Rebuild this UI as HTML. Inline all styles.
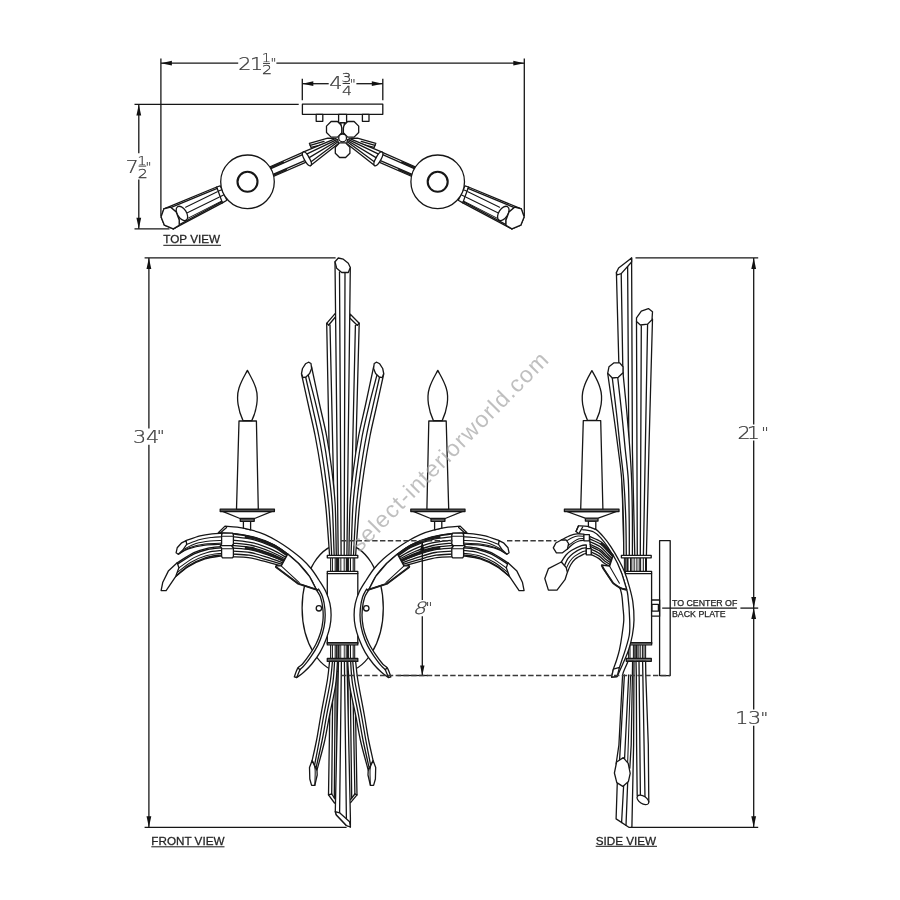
<!DOCTYPE html>
<html lang="en"><head><meta charset="utf-8"><title>Wall sconce dimension drawing</title>
<style>
html,body{margin:0;padding:0;background:#fff}
svg{display:block;filter:grayscale(1)}
.s{fill:#fff;stroke:#161616;stroke-width:1.3;stroke-linejoin:round;stroke-linecap:round}
.n{fill:none;stroke:#161616;stroke-width:1.3;stroke-linejoin:round;stroke-linecap:round}
.t{fill:none;stroke:#161616;stroke-width:1.05;stroke-linecap:round}
.k{fill:none;stroke:#1c1c1c;stroke-width:1.9;stroke-linecap:butt}
.l{fill:none;stroke:#161616;stroke-width:1.3}
.h{fill:none;stroke:#3a3a3a;stroke-width:1.4;stroke-dasharray:5.4 2.4}
.a{fill:#111;stroke:none}
.d{font-family:"DejaVu Sans Light","DejaVu Sans","Liberation Sans",sans-serif;font-weight:200;font-size:17px;fill:#3a3a3a;stroke:#3a3a3a;stroke-width:.25}
.q{font-family:"DejaVu Sans Light","DejaVu Sans","Liberation Sans",sans-serif;font-weight:200;font-size:13px;fill:#3a3a3a;stroke:#3a3a3a;stroke-width:.25}
.v{font-family:"Liberation Sans",Arial,sans-serif;font-size:11.7px;fill:#242424;stroke:#242424;stroke-width:.28}
.c{font-family:"Liberation Sans",Arial,sans-serif;font-size:8.8px;fill:#242424;stroke:#242424;stroke-width:.25}
.w{font-family:"Liberation Sans",Arial,sans-serif;font-size:23px;letter-spacing:1.18px;fill:#a0a0a0;fill-opacity:.68}
</style></head>
<body>
<svg width="900" height="900" viewBox="0 0 900 900">
<rect x="0" y="0" width="900" height="900" fill="#fff"/>
<g id="topview">
<polygon class="s" points="309.4,143.3 327.8,138.2 334,138.4 334,142 311,147.4"/>
<line class="n" x1="310.2" y1="145.3" x2="324" y2="141.4"/>
<line class="n" x1="269.5" y1="167" x2="304" y2="151.8"/>
<line class="n" x1="270.3" y1="168.9" x2="304.8" y2="153.7"/>
<line class="k" x1="269.9" y1="167.9" x2="283.9" y2="161.8"/>
<line class="n" x1="272.5" y1="174.6" x2="306.5" y2="159.8"/>
<line class="n" x1="273.3" y1="176.5" x2="307.3" y2="161.7"/>
<line class="k" x1="272.9" y1="175.5" x2="286.9" y2="169.3"/>
<polygon class="s" points="303.1,152.2 335.4,138.7 337.6,139.6 338.6,143.6 310.6,165.6"/>
<ellipse class="s" cx="306.9" cy="158.9" rx="7.7" ry="2.6" transform="rotate(60.8 306.9 158.9)"/>
<line class="n" x1="307.1" y1="153.8" x2="336.2" y2="139.9"/>
<line class="n" x1="309.2" y1="157.6" x2="336.9" y2="141"/>
<line class="n" x1="311.4" y1="161.4" x2="337.6" y2="142.1"/>
<polygon class="s" points="163.9,208.9 216.7,187 220.2,185.8 226.9,200.2 222.4,202.9 173.3,228.9"/>
<line class="n" x1="164.6" y1="210.2" x2="217.2" y2="188.4"/>
<line class="n" x1="174" y1="227.5" x2="222" y2="201.6"/>
<line class="n" x1="216.7" y1="187" x2="222.4" y2="202.9"/>
<line class="t" x1="185.6" y1="207.2" x2="217.3" y2="191.7"/>
<line class="t" x1="187.4" y1="212.8" x2="219" y2="197.2"/>
<line class="t" x1="186.7" y1="218.9" x2="221" y2="201.4"/>
<line class="t" x1="218.2" y1="191.3" x2="221.6" y2="189.8"/>
<line class="t" x1="220" y1="196.8" x2="224" y2="194.8"/>
<polygon class="s" points="161.1,216.9 163.9,208.9 170.6,207.2 176.2,212 179.2,220 179.2,225.2 173.3,228.9 164.4,225.2"/>
<ellipse class="s" cx="181.9" cy="213.4" rx="8" ry="4.5" transform="rotate(57 181.9 213.4)"/>
<polygon class="s" points="161.1,216.9 163.9,208.9 170.6,207.2 176.2,212 179.2,220 179.2,225.2 173.3,228.9 164.4,225.2"/>
<circle class="s" cx="247.5" cy="181.8" r="26.8"/>
<circle class="n" cx="247.5" cy="181.8" r="10" style="stroke-width:2.1"/>
<polygon class="s" points="375.8,143.3 357.4,138.2 351.2,138.4 351.2,142 374.2,147.4"/>
<line class="n" x1="375" y1="145.3" x2="361.2" y2="141.4"/>
<line class="n" x1="415.7" y1="167" x2="381.2" y2="151.8"/>
<line class="n" x1="414.9" y1="168.9" x2="380.4" y2="153.7"/>
<line class="k" x1="415.3" y1="167.9" x2="401.3" y2="161.8"/>
<line class="n" x1="412.7" y1="174.6" x2="378.7" y2="159.8"/>
<line class="n" x1="411.9" y1="176.5" x2="377.9" y2="161.7"/>
<line class="k" x1="412.3" y1="175.5" x2="398.3" y2="169.3"/>
<polygon class="s" points="382.1,152.2 349.8,138.7 347.6,139.6 346.6,143.6 374.6,165.6"/>
<ellipse class="s" cx="378.4" cy="158.9" rx="7.7" ry="2.6" transform="rotate(119.2 378.4 158.9)"/>
<line class="n" x1="378.1" y1="153.8" x2="349" y2="139.9"/>
<line class="n" x1="376" y1="157.6" x2="348.3" y2="141"/>
<line class="n" x1="373.9" y1="161.4" x2="347.6" y2="142.1"/>
<polygon class="s" points="521.3,208.9 468.5,187 465,185.8 458.3,200.2 462.8,202.9 511.9,228.9"/>
<line class="n" x1="520.6" y1="210.2" x2="468" y2="188.4"/>
<line class="n" x1="511.2" y1="227.5" x2="463.2" y2="201.6"/>
<line class="n" x1="468.5" y1="187" x2="462.8" y2="202.9"/>
<line class="t" x1="499.6" y1="207.2" x2="467.9" y2="191.7"/>
<line class="t" x1="497.8" y1="212.8" x2="466.2" y2="197.2"/>
<line class="t" x1="498.5" y1="218.9" x2="464.2" y2="201.4"/>
<line class="t" x1="467" y1="191.3" x2="463.6" y2="189.8"/>
<line class="t" x1="465.2" y1="196.8" x2="461.2" y2="194.8"/>
<polygon class="s" points="524.1,216.9 521.3,208.9 514.6,207.2 509,212 506,220 506,225.2 511.9,228.9 520.8,225.2"/>
<ellipse class="s" cx="503.3" cy="213.4" rx="8" ry="4.5" transform="rotate(123 503.3 213.4)"/>
<polygon class="s" points="524.1,216.9 521.3,208.9 514.6,207.2 509,212 506,220 506,225.2 511.9,228.9 520.8,225.2"/>
<circle class="s" cx="437.7" cy="181.8" r="26.8"/>
<circle class="n" cx="437.7" cy="181.8" r="10" style="stroke-width:2.1"/>
<rect class="s" x="302.4" y="104.2" width="80.4" height="10.1"/>
<rect class="s" x="316.2" y="114.3" width="6.6" height="7"/>
<rect class="s" x="362.4" y="114.3" width="6.6" height="7"/>
<rect class="s" x="338.6" y="114.3" width="8" height="8.6"/>
<polygon class="s" points="340.6,122.9 344.6,122.9 343.6,134.2 341.6,134.2"/>
<polygon class="s" points="342.1,132.5 337.5,137.1 331.1,137.1 326.5,132.5 326.5,126.1 331.1,121.5 337.5,121.5 342.1,126.1"/>
<polygon class="s" points="358.7,132.5 354.1,137.1 347.7,137.1 343.1,132.5 343.1,126.1 347.7,121.5 354.1,121.5 358.7,126.1"/>
<polygon class="s" points="340.6,122.9 344.6,122.9 343.4,128 343.4,134.2 341.8,134.2 341.8,128"/>
<polygon class="s" points="349.9,153.2 345.6,157.5 339.6,157.5 335.3,153.2 335.3,147.2 339.6,142.9 345.6,142.9 349.9,147.2"/>
<circle class="s" cx="342.6" cy="137.9" r="3.9" style="stroke-width:1.3"/>
</g>
<g id="frontview">
<ellipse class="s" cx="342.7" cy="608" rx="40.6" ry="64"/>
<circle class="s" cx="318.9" cy="608.3" r="2.7"/>
<circle class="s" cx="366.3" cy="608.3" r="2.7"/>
<polygon class="s" points="326.7,323.3 335.3,313.3 338,330 339.5,555.6 331.2,555.6"/>
<polygon class="s" points="359.2,323.3 350.3,314.2 347.5,330 345.5,555.6 353,555.6"/>
<line class="n" x1="328.7" y1="325" x2="335.4" y2="317"/>
<line class="n" x1="326.7" y1="323.3" x2="328.7" y2="325"/>
<line class="n" x1="357.2" y1="325.3" x2="350.3" y2="318.5"/>
<line class="n" x1="359.2" y1="323.3" x2="357.2" y2="325.3"/>
<line class="n" x1="330" y1="325" x2="335.2" y2="555.6"/>
<line class="n" x1="355.4" y1="325.3" x2="350.2" y2="555.6"/>
<polygon class="s" points="335,262 350.3,267.5 346.9,555.6 338.2,555.6"/>
<line class="n" x1="339.5" y1="272" x2="341.1" y2="555.6"/>
<line class="n" x1="345" y1="272" x2="344.2" y2="555.6"/>
<polygon class="s" points="335,261.7 338.3,258 343.3,259.2 348.3,263.3 350.3,267.5 348.3,272.5 341.7,272.5 336.7,268.3"/>
<path class="s" d="M301.5 374 C302.8 379.7 306.7 397.7 309 408 C311.3 418.3 313.2 425.7 315.2 436 C317.2 446.3 319.2 457.9 321 470 C322.8 482.1 324.6 494.3 326 508.6 C327.4 522.9 329 547.8 329.6 555.6 L336.3 555.6 C336.1 547.2 335.9 519.3 335.2 505 C334.4 490.7 333.2 481.5 331.8 470 C330.4 458.5 328.7 447 326.6 436 C324.6 425 322 415.6 319.5 404 C317 392.4 312.8 372.8 311.5 366.5Z"/>
<path class="n" d="M305.4 376 C306.6 381.1 310.1 396.7 312.4 406.7 C314.6 416.7 316.8 425.5 318.8 436 C320.9 446.5 322.8 458.1 324.5 470 C326.1 481.9 327.7 493.2 328.9 507.4 C330.2 521.7 331.3 547.6 331.7 555.6"/>
<path class="n" d="M308.1 374.4 C309.4 379.5 313.7 395 316.1 405.3 C318.6 415.6 320.9 425.2 323 436 C325 446.8 326.8 458.3 328.3 470 C329.9 481.7 331.3 491.9 332.3 506.2 C333.2 520.4 333.8 547.4 334.2 555.6"/>
<polygon class="s" points="301.5,373.5 302.5,368.5 305.5,363.8 308.5,362.2 311,363.5 311.6,368.5 309.6,373.5 306,377 303,377.6"/>
<path class="s" d="M383.7 374 C382.5 379.7 378.5 397.7 376.2 408 C373.9 418.3 372 425.7 370 436 C368 446.3 366 457.9 364.2 470 C362.4 482.1 360.6 494.3 359.2 508.6 C357.8 522.9 356.2 547.8 355.6 555.6 L348.9 555.6 C349.1 547.2 349.3 519.3 350 505 C350.8 490.7 352 481.5 353.4 470 C354.8 458.5 356.6 447 358.6 436 C360.7 425 363.2 415.6 365.7 404 C368.2 392.4 372.4 372.8 373.7 366.5Z"/>
<path class="n" d="M379.8 376 C378.6 381.1 375.1 396.7 372.8 406.7 C370.6 416.7 368.4 425.5 366.4 436 C364.3 446.5 362.4 458.1 360.7 470 C359.1 481.9 357.5 493.2 356.3 507.4 C355 521.7 353.9 547.6 353.5 555.6"/>
<path class="n" d="M377.1 374.4 C375.8 379.5 371.5 395 369.1 405.3 C366.6 415.6 364.3 425.2 362.2 436 C360.2 446.8 358.4 458.3 356.9 470 C355.3 481.7 353.9 491.9 352.9 506.2 C352 520.4 351.4 547.4 351 555.6"/>
<polygon class="s" points="383.7,373.5 382.7,368.5 379.7,363.8 376.7,362.2 374.2,363.5 373.6,368.5 375.6,373.5 379.2,377 382.2,377.6"/>
<polygon class="s" points="330.6,661 328.5,794.9 334.5,803 337,803 337,661"/>
<polygon class="s" points="354.6,661 357,794.9 350.6,802.6 348,802.6 348,661"/>
<line class="n" x1="333" y1="661" x2="331.7" y2="794"/>
<line class="n" x1="335.4" y1="661" x2="334.3" y2="798"/>
<line class="n" x1="328.5" y1="794.9" x2="331.7" y2="794"/>
<line class="n" x1="331.7" y1="794" x2="335.4" y2="799.5"/>
<line class="n" x1="352.4" y1="661" x2="354.9" y2="794"/>
<line class="n" x1="350" y1="661" x2="351.7" y2="798"/>
<line class="n" x1="357" y1="794.9" x2="354.9" y2="794"/>
<line class="n" x1="354.9" y1="794" x2="350.6" y2="799.5"/>
<polygon class="s" points="338.5,661 335.3,811.7 336.4,815 346.4,825.5 350.4,827 350.4,818 347,661"/>
<line class="n" x1="341.4" y1="661" x2="339.6" y2="812.8"/>
<line class="n" x1="344.4" y1="661" x2="346.4" y2="819"/>
<polygon class="s" points="335.3,811.7 339.6,812.8 349.6,821.8 350.4,827 346.4,825.5 336.4,815"/>
<path class="s" d="M329.6 661 C329.2 664.2 328.8 671 327.4 680 C325.9 689 322.7 705 320.9 715 C319.1 725 318.1 732.4 316.6 740 C315.1 747.6 312.9 757.2 312.1 760.6 L317 770 C318.2 765.3 322.3 751.2 324.4 742 C326.5 732.8 327.7 724.5 329.6 715 C331.5 705.5 334.3 694 335.6 685 C336.9 676 337.2 665 337.5 661Z"/>
<path class="n" d="M332.5 661 C332.1 664.5 331.6 673 330.2 682 C328.8 691 325.6 705.3 323.8 715 C322 724.7 320.9 731.7 319.4 740 C317.9 748.3 315.4 760.8 314.6 765"/>
<path class="n" d="M334.6 661 C334.3 664.7 334.1 674 332.8 683 C331.5 692 328.5 705.3 326.7 715 C324.9 724.7 323.8 732.2 322 741 C320.2 749.8 317 763.5 316 768"/>
<polygon class="s" points="309.5,767.4 312.1,760.6 314.6,766 317,770.6 317.2,775 314.8,785.4 311.6,785.4 309.8,779"/>
<path class="t" d="M314.6 766 C314.7 767 315.2 768.8 315.2 772 C315.2 775.2 314.9 783.2 314.8 785.4"/>
<path class="s" d="M355.6 661 C356 664.2 356.4 671 357.8 680 C359.3 689 362.5 705 364.3 715 C366.1 725 367.1 732.4 368.6 740 C370.1 747.6 372.4 757.2 373.1 760.6 L368.2 770 C367 765.3 362.9 751.2 360.8 742 C358.7 732.8 357.5 724.5 355.6 715 C353.7 705.5 350.9 694 349.6 685 C348.3 676 348 665 347.7 661Z"/>
<path class="n" d="M352.7 661 C353.1 664.5 353.6 673 355 682 C356.5 691 359.6 705.3 361.4 715 C363.2 724.7 364.3 731.7 365.8 740 C367.3 748.3 369.8 760.8 370.6 765"/>
<path class="n" d="M350.6 661 C350.9 664.7 351.1 674 352.4 683 C353.7 692 356.7 705.3 358.5 715 C360.3 724.7 361.4 732.2 363.2 741 C365 749.8 368.2 763.5 369.2 768"/>
<polygon class="s" points="375.7,767.4 373.1,760.6 370.6,766 368.2,770.6 368,775 370.4,785.4 373.6,785.4 375.4,779"/>
<path class="t" d="M370.6 766 C370.5 767 370 768.8 370 772 C370 775.2 370.3 783.2 370.4 785.4"/>
<rect class="s" x="330" y="557.8" width="25.2" height="13.6" style="stroke:none"/>
<line class="n" x1="330.6" y1="557.8" x2="330.6" y2="571.4" style="stroke-width:1.05;stroke-linecap:butt"/>
<line class="n" x1="332.4" y1="557.8" x2="332.4" y2="571.4" style="stroke-width:1.05;stroke-linecap:butt"/>
<line class="n" x1="335.2" y1="557.8" x2="335.2" y2="571.4" style="stroke-width:1.05;stroke-linecap:butt"/>
<line class="n" x1="336.6" y1="557.8" x2="336.6" y2="571.4" style="stroke-width:1.05;stroke-linecap:butt"/>
<line class="n" x1="348.6" y1="557.8" x2="348.6" y2="571.4" style="stroke-width:1.05;stroke-linecap:butt"/>
<line class="n" x1="350.5" y1="557.8" x2="350.5" y2="571.4" style="stroke-width:1.05;stroke-linecap:butt"/>
<line class="n" x1="353.2" y1="557.8" x2="353.2" y2="571.4" style="stroke-width:1.05;stroke-linecap:butt"/>
<line class="n" x1="354.7" y1="557.8" x2="354.7" y2="571.4" style="stroke-width:1.05;stroke-linecap:butt"/>
<line class="n" x1="340.6" y1="557.8" x2="340.6" y2="571.4" style="stroke:#666;stroke-width:1.8;stroke-linecap:butt"/>
<line class="n" x1="344.4" y1="557.8" x2="344.4" y2="571.4" style="stroke:#666;stroke-width:1.8;stroke-linecap:butt"/>
<line class="k" x1="338" y1="557.8" x2="338" y2="571.4" style="stroke-width:2.1"/>
<line class="k" x1="347" y1="557.8" x2="347" y2="571.4" style="stroke-width:2.1"/>
<rect class="s" x="330" y="645" width="25.2" height="13.6" style="stroke:none"/>
<line class="n" x1="330.6" y1="645" x2="330.6" y2="658.6" style="stroke-width:1.05;stroke-linecap:butt"/>
<line class="n" x1="332.4" y1="645" x2="332.4" y2="658.6" style="stroke-width:1.05;stroke-linecap:butt"/>
<line class="n" x1="335.2" y1="645" x2="335.2" y2="658.6" style="stroke-width:1.05;stroke-linecap:butt"/>
<line class="n" x1="336.6" y1="645" x2="336.6" y2="658.6" style="stroke-width:1.05;stroke-linecap:butt"/>
<line class="n" x1="348.6" y1="645" x2="348.6" y2="658.6" style="stroke-width:1.05;stroke-linecap:butt"/>
<line class="n" x1="350.5" y1="645" x2="350.5" y2="658.6" style="stroke-width:1.05;stroke-linecap:butt"/>
<line class="n" x1="353.2" y1="645" x2="353.2" y2="658.6" style="stroke-width:1.05;stroke-linecap:butt"/>
<line class="n" x1="354.7" y1="645" x2="354.7" y2="658.6" style="stroke-width:1.05;stroke-linecap:butt"/>
<line class="n" x1="340.4" y1="645" x2="340.4" y2="658.6" style="stroke:#666;stroke-width:1.8;stroke-linecap:butt"/>
<line class="n" x1="344.6" y1="645" x2="344.6" y2="658.6" style="stroke:#666;stroke-width:1.8;stroke-linecap:butt"/>
<line class="k" x1="338.4" y1="645" x2="338.4" y2="658.6" style="stroke-width:2.1"/>
<line class="k" x1="347.3" y1="645" x2="347.3" y2="658.6" style="stroke-width:2.1"/>
<rect class="s" x="327.3" y="555.4" width="30.5" height="2.4"/>
<rect class="s" x="327.3" y="571.3" width="30.5" height="73.6"/>
<line class="n" x1="327.3" y1="573.6" x2="357.8" y2="573.6"/>
<line class="n" x1="327.3" y1="642.9" x2="357.8" y2="642.9" style="stroke-width:1.7"/>
<rect class="s" x="327.3" y="658.5" width="30.5" height="2.9" style="fill:#5a5a5a;fill-opacity:.85"/>
<path class="s" d="M225 526.1 C227 526.3 232.8 526.5 237.2 527.2 C241.6 527.9 247.1 529 251.7 530.2 C256.3 531.4 260.8 532.8 265 534.6 C269.2 536.4 273.3 538.7 277.2 541 C281.1 543.3 284.2 545.3 288.3 548.3 C292.4 551.3 297.9 555.4 301.7 558.8 C305.5 562.2 308.1 565 311 568.5 C313.9 572 316.4 576.1 318.9 580 C321.4 583.9 324.1 587.8 325.9 591.7 C327.7 595.6 329 599.4 329.9 603.3 C330.8 607.2 331.1 611.1 331.1 615 C331.1 618.9 330.7 622.8 329.9 626.7 C329.1 630.6 328 634.1 326.4 638.4 C324.8 642.7 322.4 648.1 320 652.4 C317.6 656.7 314.5 660.7 311.8 664 C309.1 667.3 306.2 670 303.7 672.2 C301.2 674.5 297.9 676.6 296.7 677.5 L294.3 676.9 C294.9 675.4 296.4 670.2 297.8 668.1 C299.2 666 300.6 666.2 302.5 664 C304.4 661.8 307.3 658 309.5 654.7 C311.7 651.4 314 647.9 315.9 644.2 C317.8 640.5 319.4 636.4 320.6 632.5 C321.8 628.6 322.5 624.8 322.9 620.9 C323.3 617 323.3 613.1 322.9 609.2 C322.5 605.3 321.7 600.7 320.6 597.5 C319.5 594.3 318.4 593.4 316.5 589.9 C314.6 586.4 312.4 580.7 309.4 576.3 C306.4 571.9 302.2 567.2 298.6 563.5 C295 559.8 291.7 557 287.7 553.9 C283.7 550.8 278.7 547.3 274.4 545 C270.1 542.7 265.8 541.4 262 540 C258.2 538.6 255.8 537.9 251.7 536.9 C247.6 535.9 242.8 534.7 237.2 534 C231.6 533.3 221.5 533 218.3 532.8Z"/>
<path class="n" d="M300 669.5 C300.7 668.8 302.4 667.6 304.3 665.4 C306.2 663.2 309.1 659.4 311.3 656.1 C313.6 652.8 315.9 649.2 317.8 645.4 C319.7 641.6 321.3 637.2 322.5 633.2 C323.7 629.2 324.5 625.1 324.9 621.1 C325.3 617.1 325.3 613 324.9 609 C324.5 605 323.7 600.3 322.6 597 C321.5 593.7 319.2 590.3 318.5 589"/>
<line class="n" x1="297.8" y1="668.1" x2="300" y2="669.5"/>
<line class="n" x1="300" y1="669.5" x2="296.7" y2="677.5"/>
<line class="n" x1="220.3" y1="533" x2="226.6" y2="527.4"/>
<path class="s" d="M232.8 533.9 C236.5 534.5 248.1 535.5 255 537.4 C261.9 539.2 268.9 542.2 274.4 545 C279.8 547.8 285.5 552.6 287.7 554.1 L281.4 565.8 C278.5 565 269.5 562.6 264 561.2 C258.5 559.8 253.5 558.3 248.3 557.6 C243.1 556.9 235.4 557 232.8 556.9Z"/>
<path class="n" d="M232.8 536.7 C236.4 537.2 247.5 538.1 254.2 539.8 C260.9 541.5 267.7 544.3 273.2 546.9 C278.6 549.6 284.6 554.1 286.9 555.5"/>
<path class="n" d="M232.8 540.1 C236.2 540.6 246.7 541.3 253.2 542.9 C259.7 544.4 266.1 547 271.6 549.4 C277.1 551.8 283.6 555.9 286 557.3"/>
<path class="n" d="M232.8 543.1 C236.1 543.5 246.1 544.1 252.3 545.5 C258.6 546.9 264.8 549.3 270.2 551.5 C275.7 553.7 282.7 557.6 285.2 558.8"/>
<path class="n" d="M232.8 545.4 C235.9 545.8 245.6 546.2 251.7 547.5 C257.7 548.8 263.7 551 269.2 553.1 C274.7 555.2 282 558.8 284.5 560"/>
<path class="n" d="M232.8 548.2 C235.8 548.5 245 548.8 250.8 549.9 C256.7 551.1 262.5 553.1 268 555 C273.4 556.9 281.2 560.3 283.8 561.4"/>
<path class="n" d="M232.8 551.1 C235.7 551.4 244.3 551.5 250 552.5 C255.6 553.5 261.1 555.4 266.6 557.2 C272.1 558.9 280.2 561.9 283 562.9"/>
<path class="n" d="M232.8 554.1 C235.5 554.3 243.7 554.3 249.1 555.2 C254.5 556 259.7 557.7 265.2 559.3 C270.8 560.8 279.3 563.5 282.2 564.4"/>
<path class="k" d="M244.8 536.9 C246.5 537.1 249.8 536.9 254.7 538.4 C259.5 539.9 268.4 543.1 273.9 545.8 C279.3 548.5 285.1 553.2 287.4 554.7" style="stroke-width:2.3"/>
<path class="k" d="M244.8 548 C245.9 548.1 247.3 547.7 251.2 548.7 C255.2 549.7 263.1 552.1 268.6 554.1 C274.1 556.1 281.6 559.6 284.2 560.7" style="stroke-width:2.3"/>
<line class="k" x1="287.7" y1="554.1" x2="281.4" y2="565.8"/>
<polygon class="s" points="287.7,554.1 298.6,563.5 309.4,576.3 316.5,589.9 318,590.2 301.7,584.6 298.6,583.9 275.6,566.8 276,565.6 281.4,565.8"/>
<line class="k" x1="275.6" y1="566.8" x2="298.6" y2="583.9"/>
<line class="k" x1="298.6" y1="583.9" x2="318" y2="590.2"/>
<line class="t" x1="281.4" y1="566.2" x2="299.3" y2="582.6"/>
<path class="s" d="M186.1 540.6 C188.4 539.8 195.7 536.9 200 535.8 C204.3 534.7 208.4 534.2 212 533.8 C215.6 533.4 220.1 533.3 221.7 533.2 L221.7 544.2 C218.9 544.4 210.6 544.4 205 545.2 C199.4 546 192.8 547.4 188.3 548.9 C183.9 550.4 180 553.3 178.3 554.2Z"/>
<path class="t" d="M186.7 544.4 C188.9 543.6 195.8 540.8 200 539.6 C204.2 538.4 208.4 537.9 212 537.4 C215.6 536.9 220.1 536.9 221.7 536.8"/>
<path class="t" d="M183.2 549.6 C185.3 548.6 191.5 545 196 543.6 C200.5 542.2 205.7 541.5 210 541 C214.3 540.5 219.8 540.5 221.7 540.4"/>
<path class="t" d="M179.6 553.2 C181.2 552.3 185.1 549.2 189.3 547.7 C193.5 546.2 199.6 544.8 205 544 C210.4 543.2 218.9 543.2 221.7 543.1"/>
<polygon class="s" points="176.1,552.8 177.2,547.8 181.7,542.8 186.1,540.6 186.7,544.4 182.8,550 178.3,554.2"/>
<path class="s" d="M177.2 562.8 C180 561.1 188.9 555 193.9 552.6 C198.9 550.2 202.6 549.3 207.2 548.3 C211.8 547.3 219.3 546.9 221.7 546.6 L221.7 555.8 C218.9 556.3 210.6 557.1 205 558.9 C199.4 560.7 193.2 563.7 188.3 566.7 C183.4 569.7 177.7 575 175.6 576.7Z"/>
<path class="n" d="M177.8 563.9 C180.5 562.2 189.3 556.3 194.2 553.9 C199.1 551.5 202.8 550.5 207.4 549.5 C212 548.5 219.3 548.1 221.7 547.8"/>
<path class="t" d="M178.9 567.8 C181.4 566.1 189.2 560.2 194 557.6 C198.8 555 202.8 553.6 207.4 552.4 C212 551.2 219.3 550.7 221.7 550.4"/>
<path class="t" d="M177.4 572.4 C179.7 570.7 186.2 565 191 562.2 C195.8 559.4 200.9 557.3 206 555.8 C211.1 554.3 219.1 553.6 221.7 553.2"/>
<path class="n" d="M176.4 575.6 C178.5 573.9 184.1 568.6 188.9 565.6 C193.7 562.6 199.8 559.6 205.3 557.8 C210.8 556 219 555.3 221.7 554.8"/>
<polygon class="s" points="161.1,590.6 162.8,582.2 168.3,571.1 177.2,562.8 178.9,567.8 175.6,576.7 166.1,590.6"/>
<polygon class="s" points="222.4,533.2 232.6,533.2 233.4,535 233.4,544 232,545.6 232,546.6 233.4,548 233.4,556.4 232.6,557.8 222.4,557.8 221.6,556.4 221.6,548 220.4,546.6 220.4,545.6 221.6,544 221.6,535"/>
<line class="t" x1="221.6" y1="536.2" x2="233.4" y2="536.2"/>
<line class="t" x1="220.4" y1="545.6" x2="232" y2="545.6"/>
<line class="t" x1="221.6" y1="548.8" x2="233.4" y2="548.8"/>
<polygon class="s" points="243.4,521.3 250.6,521.3 250.6,529.8 243.4,528.2"/>
<rect class="s" x="240.3" y="518.5" width="13.9" height="2.8" style="fill:#777"/>
<polygon class="s" points="222.6,511.4 272,511.4 254.6,518.5 240,518.5"/>
<rect class="s" x="220.2" y="509.1" width="54.2" height="2.4" style="fill:#666"/>
<polygon class="s" points="239,421 256.4,421 258.3,509.1 236.5,509.1"/>
<path class="s" d="M243 420.6 C238.4 411 235.8 398 239 388 C241.4 380.5 245 375 247.4 370.4 C249.8 375 253.4 380.5 255.8 388 C259 398 256.4 411 251.8 420.6Z"/>
<path class="s" d="M460.2 526.1 C458.2 526.3 452.5 526.5 448 527.2 C443.6 527.9 438.1 529 433.5 530.2 C428.9 531.4 424.5 532.8 420.2 534.6 C416 536.4 411.9 538.7 408 541 C404.1 543.3 401 545.3 396.9 548.3 C392.8 551.3 387.3 555.4 383.5 558.8 C379.7 562.2 377.1 565 374.2 568.5 C371.3 572 368.8 576.1 366.3 580 C363.8 583.9 361.1 587.8 359.3 591.7 C357.5 595.6 356.2 599.4 355.3 603.3 C354.4 607.2 354.1 611.1 354.1 615 C354.1 618.9 354.5 622.8 355.3 626.7 C356.1 630.6 357.2 634.1 358.8 638.4 C360.5 642.7 362.8 648.1 365.2 652.4 C367.6 656.7 370.7 660.7 373.4 664 C376.1 667.3 379 670 381.5 672.2 C384 674.5 387.3 676.6 388.5 677.5 L390.9 676.9 C390.3 675.4 388.8 670.2 387.4 668.1 C386 666 384.7 666.2 382.7 664 C380.8 661.8 377.9 658 375.7 654.7 C373.5 651.4 371.2 647.9 369.3 644.2 C367.5 640.5 365.8 636.4 364.6 632.5 C363.4 628.6 362.7 624.8 362.3 620.9 C361.9 617 361.9 613.1 362.3 609.2 C362.7 605.3 363.5 600.7 364.6 597.5 C365.7 594.3 366.8 593.4 368.7 589.9 C370.6 586.4 372.8 580.7 375.8 576.3 C378.8 571.9 383 567.2 386.6 563.5 C390.2 559.8 393.5 557 397.5 553.9 C401.5 550.8 406.5 547.3 410.8 545 C415.1 542.7 419.4 541.4 423.2 540 C427 538.6 429.4 537.9 433.5 536.9 C437.6 535.9 442.4 534.7 448 534 C453.6 533.3 463.8 533 466.9 532.8Z"/>
<path class="n" d="M385.2 669.5 C384.5 668.8 382.8 667.6 380.9 665.4 C379 663.2 376.2 659.4 373.9 656.1 C371.7 652.8 369.3 649.2 367.4 645.4 C365.5 641.6 363.9 637.2 362.7 633.2 C361.5 629.2 360.7 625.1 360.3 621.1 C359.9 617.1 359.9 613 360.3 609 C360.7 605 361.5 600.3 362.6 597 C363.7 593.7 366 590.3 366.7 589"/>
<line class="n" x1="387.4" y1="668.1" x2="385.2" y2="669.5"/>
<line class="n" x1="385.2" y1="669.5" x2="388.5" y2="677.5"/>
<line class="n" x1="464.9" y1="533" x2="458.6" y2="527.4"/>
<path class="s" d="M452.4 533.9 C448.7 534.5 437.1 535.5 430.2 537.4 C423.3 539.2 416.3 542.2 410.8 545 C405.4 547.8 399.7 552.6 397.5 554.1 L403.8 565.8 C406.7 565 415.7 562.6 421.2 561.2 C426.7 559.8 431.7 558.3 436.9 557.6 C442.1 556.9 449.8 557 452.4 556.9Z"/>
<path class="n" d="M452.4 536.7 C448.8 537.2 437.7 538.1 431 539.8 C424.3 541.5 417.5 544.3 412 546.9 C406.6 549.6 400.6 554.1 398.3 555.5"/>
<path class="n" d="M452.4 540.1 C449 540.6 438.5 541.3 432 542.9 C425.5 544.4 419.1 547 413.6 549.4 C408.1 551.8 401.6 555.9 399.2 557.3"/>
<path class="n" d="M452.4 543.1 C449.1 543.5 439.1 544.1 432.9 545.5 C426.6 546.9 420.4 549.3 415 551.5 C409.5 553.7 402.5 557.6 400 558.8"/>
<path class="n" d="M452.4 545.4 C449.3 545.8 439.6 546.2 433.6 547.5 C427.5 548.8 421.5 551 416 553.1 C410.5 555.2 403.2 558.8 400.7 560"/>
<path class="n" d="M452.4 548.2 C449.4 548.5 440.2 548.8 434.4 549.9 C428.5 551.1 422.7 553.1 417.2 555 C411.8 556.9 404 560.3 401.4 561.4"/>
<path class="n" d="M452.4 551.1 C449.5 551.4 440.9 551.5 435.2 552.5 C429.6 553.5 424.1 555.4 418.6 557.2 C413.1 558.9 405 561.9 402.2 562.9"/>
<path class="n" d="M452.4 554.1 C449.7 554.3 441.5 554.3 436.1 555.2 C430.7 556 425.5 557.7 420 559.3 C414.4 560.8 405.9 563.5 403 564.4"/>
<path class="k" d="M440.4 536.9 C438.7 537.1 435.4 536.9 430.5 538.4 C425.7 539.9 416.8 543.1 411.3 545.8 C405.9 548.5 400.1 553.2 397.8 554.7" style="stroke-width:2.3"/>
<path class="k" d="M440.4 548 C439.3 548.1 437.9 547.7 434 548.7 C430 549.7 422.1 552.1 416.6 554.1 C411.1 556.1 403.6 559.6 401 560.7" style="stroke-width:2.3"/>
<line class="k" x1="397.5" y1="554.1" x2="403.8" y2="565.8"/>
<polygon class="s" points="397.5,554.1 386.6,563.5 375.8,576.3 368.7,589.9 367.2,590.2 383.5,584.6 386.6,583.9 409.6,566.8 409.2,565.6 403.8,565.8"/>
<line class="k" x1="409.6" y1="566.8" x2="386.6" y2="583.9"/>
<line class="k" x1="386.6" y1="583.9" x2="367.2" y2="590.2"/>
<line class="t" x1="403.8" y1="566.2" x2="385.9" y2="582.6"/>
<path class="s" d="M499.1 540.6 C496.8 539.8 489.5 536.9 485.2 535.8 C480.9 534.7 476.8 534.2 473.2 533.8 C469.6 533.4 465.1 533.3 463.5 533.2 L463.5 544.2 C466.3 544.4 474.6 544.4 480.2 545.2 C485.8 546 492.5 547.4 496.9 548.9 C501.4 550.4 505.2 553.3 506.9 554.2Z"/>
<path class="t" d="M498.5 544.4 C496.3 543.6 489.4 540.8 485.2 539.6 C481 538.4 476.8 537.9 473.2 537.4 C469.6 536.9 465.1 536.9 463.5 536.8"/>
<path class="t" d="M502 549.6 C499.9 548.6 493.7 545 489.2 543.6 C484.7 542.2 479.5 541.5 475.2 541 C470.9 540.5 465.5 540.5 463.5 540.4"/>
<path class="t" d="M505.6 553.2 C504 552.3 500.1 549.2 495.9 547.7 C491.7 546.2 485.6 544.8 480.2 544 C474.8 543.2 466.3 543.2 463.5 543.1"/>
<polygon class="s" points="509.1,552.8 508,547.8 503.5,542.8 499.1,540.6 498.5,544.4 502.4,550 506.9,554.2"/>
<path class="s" d="M508 562.8 C505.2 561.1 496.3 555 491.3 552.6 C486.3 550.2 482.6 549.3 478 548.3 C473.4 547.3 465.9 546.9 463.5 546.6 L463.5 555.8 C466.3 556.3 474.6 557.1 480.2 558.9 C485.8 560.7 492 563.7 496.9 566.7 C501.8 569.7 507.5 575 509.6 576.7Z"/>
<path class="n" d="M507.4 563.9 C504.7 562.2 495.9 556.3 491 553.9 C486.1 551.5 482.4 550.5 477.8 549.5 C473.2 548.5 465.9 548.1 463.5 547.8"/>
<path class="t" d="M506.3 567.8 C503.8 566.1 496 560.2 491.2 557.6 C486.5 555 482.4 553.6 477.8 552.4 C473.2 551.2 465.9 550.7 463.5 550.4"/>
<path class="t" d="M507.8 572.4 C505.5 570.7 499 565 494.2 562.2 C489.4 559.4 484.3 557.3 479.2 555.8 C474.1 554.3 466.1 553.6 463.5 553.2"/>
<path class="n" d="M508.8 575.6 C506.7 573.9 501.1 568.6 496.3 565.6 C491.5 562.6 485.4 559.6 479.9 557.8 C474.4 556 466.2 555.3 463.5 554.8"/>
<polygon class="s" points="524.1,590.6 522.4,582.2 516.9,571.1 508,562.8 506.3,567.8 509.6,576.7 519.1,590.6"/>
<polygon class="s" points="462.8,533.2 452.6,533.2 451.8,535 451.8,544 453.2,545.6 453.2,546.6 451.8,548 451.8,556.4 452.6,557.8 462.8,557.8 463.6,556.4 463.6,548 464.8,546.6 464.8,545.6 463.6,544 463.6,535"/>
<line class="t" x1="463.6" y1="536.2" x2="451.8" y2="536.2"/>
<line class="t" x1="464.8" y1="545.6" x2="453.2" y2="545.6"/>
<line class="t" x1="463.6" y1="548.8" x2="451.8" y2="548.8"/>
<polygon class="s" points="441.8,521.3 434.6,521.3 434.6,529.8 441.8,528.2"/>
<rect class="s" x="431" y="518.5" width="13.9" height="2.8" style="fill:#777"/>
<polygon class="s" points="462.6,511.4 413.2,511.4 430.6,518.5 445.2,518.5"/>
<rect class="s" x="410.8" y="509.1" width="54.2" height="2.4" style="fill:#666"/>
<polygon class="s" points="446.2,421 428.8,421 426.9,509.1 448.7,509.1"/>
<path class="s" d="M433.4 420.6 C428.8 411 426.2 398 429.4 388 C431.8 380.5 435.4 375 437.8 370.4 C440.2 375 443.8 380.5 446.2 388 C449.4 398 446.8 411 442.2 420.6Z"/>
</g>
<g id="sideview">
<rect class="s" x="659.6" y="540.7" width="10.6" height="134.9"/>
<polygon class="s" points="616.4,272.6 631.6,257.9 632.4,450 634.8,555.6 624,555.6"/>
<line class="n" x1="621.2" y1="273" x2="626" y2="555.6"/>
<line class="n" x1="627.6" y1="263" x2="629.6" y2="555.6"/>
<polygon class="s" points="616.4,272.6 618.6,268 631.6,257.9 631.6,262 621.2,273.6 617,275"/>
<polygon class="s" points="636.5,321.5 652.5,319 648.9,450 646.4,555.6 637.3,555.6"/>
<line class="n" x1="641.3" y1="326" x2="640.3" y2="555.6"/>
<line class="n" x1="647.6" y1="323" x2="643.4" y2="555.6"/>
<polygon class="s" points="636.5,317.8 641.3,311.1 648.4,308.6 652.5,311.7 652,319.7 647.6,324.1 640.4,325 636.5,321.4"/>
<path class="s" d="M607.7 373.3 C608.6 379.8 611.4 399.2 613.2 412 C615 424.8 616.9 438.7 618.3 450 C619.7 461.3 620.9 468.3 621.7 480 C622.6 491.7 623 507.4 623.4 520 C623.8 532.6 623.7 549.7 623.8 555.6 L632.4 555.6 C632.4 549.7 632.5 532.6 632.4 520 C632.3 507.4 632 491.7 631.6 480 C631.2 468.3 630.7 461.3 629.9 450 C629.1 438.7 627.9 424.9 626.8 412 C625.6 399.1 623.6 379.2 623 372.7Z"/>
<path class="n" d="M612.3 378 C613 384 615.2 402 616.6 414 C618 426 619.2 439 620.4 450 C621.6 461 622.8 468.3 623.7 480 C624.6 491.7 625.4 507.4 625.8 520 C626.2 532.6 626.2 549.7 626.3 555.6"/>
<path class="n" d="M617.7 377.3 C618.4 383.4 620.5 401.9 621.8 414 C623.1 426.1 624.2 439 625.3 450 C626.4 461 627.6 468.3 628.3 480 C628.9 491.7 629 507.4 629.2 520 C629.4 532.6 629.3 549.7 629.3 555.6"/>
<polygon class="s" points="607.7,373.3 609,366.7 613.7,362.9 619.7,362.9 623,366.7 623,372.7 618.3,377.3 612.3,378"/>
<polygon class="s" points="636,661 636.3,675 636.6,745 637.2,795.7 648.8,802 648.3,745 645.8,675 645.6,661"/>
<line class="n" x1="639" y1="661" x2="640.4" y2="796"/>
<line class="n" x1="642.6" y1="661" x2="645" y2="798"/>
<ellipse class="s" cx="642.9" cy="799.9" rx="6.6" ry="3.7" transform="rotate(33 642.9 799.9)"/>
<polygon class="s" points="628,661 617.2,785 616.1,818.9 628.8,827.3 631.9,827.3 633.6,745 634,661"/>
<line class="n" x1="630.5" y1="661" x2="621.6" y2="822.5"/>
<line class="n" x1="632.4" y1="661" x2="626" y2="825.4"/>
<path class="s" d="M628.1 661 C625.5 668 623.2 671 622.6 675 L618.9 745 L616.1 764 L629.8 768.2 L631.2 745 L632.4 675 L632.6 661Z"/>
<line class="n" x1="624.4" y1="675" x2="619.4" y2="763"/>
<line class="n" x1="628.7" y1="675" x2="624.4" y2="762"/>
<line class="t" x1="630.6" y1="675" x2="627.6" y2="764"/>
<polygon class="s" points="614.4,773 616.6,762 623.3,757.6 628.2,763.3 630.2,773.3 628.4,781.6 622.8,786.4 616.8,782.6"/>
<rect class="s" x="623.8" y="557.8" width="23" height="13.6" style="stroke:none"/>
<line class="n" x1="624.4" y1="557.8" x2="624.4" y2="571.4" style="stroke-width:1.05;stroke-linecap:butt"/>
<line class="n" x1="625.7" y1="557.8" x2="625.7" y2="571.4" style="stroke-width:1.05;stroke-linecap:butt"/>
<line class="n" x1="630.5" y1="557.8" x2="630.5" y2="571.4" style="stroke-width:1.05;stroke-linecap:butt"/>
<line class="n" x1="631.8" y1="557.8" x2="631.8" y2="571.4" style="stroke-width:1.05;stroke-linecap:butt"/>
<line class="n" x1="636.9" y1="557.8" x2="636.9" y2="571.4" style="stroke-width:1.05;stroke-linecap:butt"/>
<line class="n" x1="639.2" y1="557.8" x2="639.2" y2="571.4" style="stroke-width:1.05;stroke-linecap:butt"/>
<line class="n" x1="640.6" y1="557.8" x2="640.6" y2="571.4" style="stroke-width:1.05;stroke-linecap:butt"/>
<line class="n" x1="643.3" y1="557.8" x2="643.3" y2="571.4" style="stroke-width:1.05;stroke-linecap:butt"/>
<line class="n" x1="645.5" y1="557.8" x2="645.5" y2="571.4" style="stroke-width:1.05;stroke-linecap:butt"/>
<line class="n" x1="646.5" y1="557.8" x2="646.5" y2="571.4" style="stroke-width:1.05;stroke-linecap:butt"/>
<line class="n" x1="634.3" y1="557.8" x2="634.3" y2="571.4" style="stroke:#666;stroke-width:1.8;stroke-linecap:butt"/>
<line class="k" x1="627.5" y1="557.8" x2="627.5" y2="571.4" style="stroke-width:2.1"/>
<rect class="s" x="628" y="645" width="18" height="13.6" style="stroke:none"/>
<line class="n" x1="628.6" y1="645" x2="628.6" y2="658.6" style="stroke-width:1.05;stroke-linecap:butt"/>
<line class="n" x1="630" y1="645" x2="630" y2="658.6" style="stroke-width:1.05;stroke-linecap:butt"/>
<line class="n" x1="633.4" y1="645" x2="633.4" y2="658.6" style="stroke-width:1.05;stroke-linecap:butt"/>
<line class="n" x1="634.8" y1="645" x2="634.8" y2="658.6" style="stroke-width:1.05;stroke-linecap:butt"/>
<line class="n" x1="640.2" y1="645" x2="640.2" y2="658.6" style="stroke-width:1.05;stroke-linecap:butt"/>
<line class="n" x1="642.4" y1="645" x2="642.4" y2="658.6" style="stroke-width:1.05;stroke-linecap:butt"/>
<line class="n" x1="644" y1="645" x2="644" y2="658.6" style="stroke-width:1.05;stroke-linecap:butt"/>
<line class="n" x1="645.6" y1="645" x2="645.6" y2="658.6" style="stroke-width:1.05;stroke-linecap:butt"/>
<line class="n" x1="638.4" y1="645" x2="638.4" y2="658.6" style="stroke:#666;stroke-width:1.8;stroke-linecap:butt"/>
<line class="k" x1="636.4" y1="645" x2="636.4" y2="658.6" style="stroke-width:2.1"/>
<rect class="s" x="621.4" y="555.4" width="29.8" height="2.4"/>
<rect class="s" x="625.3" y="571.3" width="26.3" height="73.6"/>
<line class="n" x1="625.3" y1="573.6" x2="651.6" y2="573.6"/>
<line class="n" x1="625.3" y1="642.9" x2="651.6" y2="642.9" style="stroke-width:1.7"/>
<rect class="s" x="626.3" y="658.4" width="25" height="2.9" style="fill:#5a5a5a;fill-opacity:.85"/>
<rect class="s" x="651.6" y="600" width="8" height="16.2"/>
<rect class="s" x="652" y="604.4" width="6.4" height="6.8"/>
<path class="s" d="M578.4 525.9 C579.9 526 584.6 525.8 587.6 526.4 C590.6 527 593.5 527.9 596.1 529.6 C598.8 531.4 601 534 603.5 536.9 C606 539.8 608.4 543 610.8 546.7 C613.2 550.4 615.9 554.8 618.1 558.9 C620.3 563 622.4 566.6 624.2 571.1 C626 575.6 627.7 580.7 629.1 585.8 C630.5 590.9 632 596 632.8 601.7 C633.6 607.4 634.1 614.5 634 620 C633.9 625.5 633.3 630 632.4 635 C631.5 640 630.2 645 628.7 649.7 C627.2 654.4 625.1 658.6 623.2 663.1 C621.3 667.6 618.1 674.3 617.1 676.5 L611.6 677.1 C611.9 675.8 612.6 672.1 613.4 669.2 C614.2 666.4 615.6 663.2 616.6 660 C617.6 656.8 618.6 653.9 619.5 649.7 C620.4 645.5 621.3 640 622 635 C622.7 630 623.6 624.5 623.8 620 C624 615.5 623.4 612.3 623 607.8 C622.6 603.3 622.4 597.7 621.4 593.1 C620.4 588.5 618.6 584 617 580 C615.4 576 613.8 572.5 612 569 C610.2 565.5 608.4 562.2 606.4 558.9 C604.4 555.6 602.2 551.8 600 549 C597.8 546.2 595.5 543.8 593 542 C590.5 540.2 587.8 539.8 585 538 C582.2 536.2 577.5 532.5 576 531.4Z"/>
<path class="n" d="M582.7 529.6 C584.5 530 590.7 530.6 593.7 532 C596.8 533.4 598.6 535.5 601 538.1 C603.4 540.8 606 544.4 608.3 547.9 C610.5 551.4 612.5 555 614.5 558.9 C616.5 562.8 618.8 566.6 620.6 571.1 C622.4 575.6 624.3 581.7 625.5 585.8 C626.7 589.9 627.2 589.9 627.9 595.6 C628.6 601.3 629.5 613.4 629.7 620 C629.9 626.6 630.1 629.9 629.3 635 C628.5 640.1 626.3 646.6 625 650.9 C623.7 655.2 622.5 658.2 621.6 661 C620.7 663.8 619.9 666.3 619.5 667.4"/>
<line class="n" x1="576" y1="531.4" x2="578.4" y2="525.9"/>
<line class="n" x1="579.6" y1="532.4" x2="582.7" y2="527"/>
<polygon class="s" points="613.4,669.2 619.5,667.4 617.1,676.5 611.6,677.1"/>
<polygon class="s" points="588.4,521 595.8,521 595.8,529.4 588.4,526.6"/>
<rect class="s" x="585.4" y="518.2" width="12.6" height="2.9" style="fill:#777"/>
<polygon class="s" points="566.8,511.5 616.6,511.5 598.2,518.2 585.2,518.2"/>
<rect class="s" x="564.4" y="509.2" width="54.6" height="2.4" style="fill:#666"/>
<polygon class="s" points="583.3,420.6 600.7,420.6 602.9,509.2 580.7,509.2"/>
<path class="s" d="M587.5 420.4 C582.9 411 580.5 398 583.7 388 C585.9 380.5 589.5 375 591.9 370.6 C594.3 375 597.9 380.5 600.1 388 C603.3 398 600.9 411 596.3 420.4Z"/>
<path class="s" d="M589.4 536.3 C591.3 537.2 597.9 539.6 601 541.8 C604.1 544 606.3 547.1 608.3 549.3 C610.3 551.5 612.4 554.2 613.2 555.2 L609.6 566.2 C608.7 565.7 605.8 564.3 604 563 C602.2 561.7 600.7 559.8 598.6 558.4 C596.5 557 592.4 555.2 591.2 554.6Z"/>
<path class="n" d="M589.7 538.9 C591.5 539.7 597.7 542.1 600.7 544.1 C603.7 546.2 605.7 549.1 607.7 551.2 C609.7 553.3 611.9 555.8 612.7 556.7"/>
<path class="n" d="M589.9 541.8 C591.7 542.6 597.4 544.8 600.3 546.8 C603.1 548.7 605 551.5 607 553.4 C609 555.4 611.3 557.7 612.1 558.5"/>
<path class="n" d="M590.2 544.5 C591.8 545.3 597.2 547.4 599.9 549.3 C602.6 551.1 604.4 553.7 606.4 555.5 C608.3 557.3 610.7 559.4 611.6 560.2"/>
<path class="n" d="M590.4 546.4 C591.9 547.1 597.1 549.2 599.7 550.9 C602.3 552.7 604 555.1 605.9 556.8 C607.9 558.6 610.3 560.5 611.2 561.2"/>
<path class="n" d="M590.7 549.1 C592.1 549.8 596.9 551.8 599.3 553.4 C601.8 555 603.4 557.3 605.3 558.9 C607.2 560.5 609.8 562.2 610.7 562.9"/>
<path class="n" d="M590.9 551.9 C592.3 552.5 596.7 554.4 599 555.9 C601.2 557.4 602.8 559.5 604.6 560.9 C606.5 562.4 609.2 563.9 610.1 564.6"/>
<path class="k" d="M600.9 542.8 C602.1 544 606 547.9 608 550.1 C610.1 552.3 612.2 554.9 613 555.9" style="stroke-width:2"/>
<line class="k" x1="613.2" y1="555.2" x2="609.6" y2="566.2"/>
<polygon class="s" points="613.2,555.2 617.4,563 622,574 626.7,589.6 620.6,588.2 613.2,583.3 603.5,568.7 601.6,565 609.6,566.2"/>
<line class="k" x1="601.6" y1="565" x2="603.5" y2="568.7"/>
<line class="k" x1="603.5" y1="568.7" x2="613.2" y2="583.3"/>
<path class="k" d="M613.2 583.3 C614.4 584.1 618.4 587.1 620.6 588.2 C622.9 589.3 625.7 589.5 626.7 589.8"/>
<line class="t" x1="609.6" y1="566.2" x2="619.4" y2="583.3"/>
<path class="s" d="M561.3 540 C562.8 539.3 567.4 536.6 570 535.6 C572.6 534.6 574.7 534 577 533.8 C579.3 533.6 582.8 534.1 584 534.2 L584 540.4 C583.2 540.5 580.8 540.4 579 541 C577.2 541.6 574.9 542.6 573 544 C571.1 545.4 568.3 548.2 567.4 549.1Z"/>
<path class="t" d="M565 541.8 C566.2 541.1 569.8 538.8 572 537.8 C574.2 536.8 576 536.2 578 536 C580 535.8 583 536.3 584 536.4"/>
<path class="t" d="M568 545.8 C569 545.1 572.2 542.6 574 541.4 C575.8 540.2 577.3 539.3 579 538.8 C580.7 538.3 583.2 538.5 584 538.4"/>
<polygon class="s" points="553.3,547.9 555.8,543 561.3,540 566.2,540 568.6,543.6 567.4,549.1 562.5,552.8 556.4,552.8"/>
<path class="s" d="M561.3 562 C562.1 560.8 564.3 557 566 555 C567.7 553 569.1 551.9 571.7 550.3 C574.3 548.7 579.1 546.5 581.5 545.6 C583.9 544.7 585.5 545.1 586.3 545 L586.3 553.8 C585.9 553.8 585.7 553.1 583.9 554 C582.1 554.9 577.5 557.1 575.3 558.9 C573.1 560.7 571.9 562.8 570.6 565 C569.3 567.2 567.9 571.1 567.4 572.3Z"/>
<path class="n" d="M564.4 565.6 C565 564.4 566.6 560.4 568 558.4 C569.4 556.4 570.7 555.1 573 553.4 C575.3 551.7 579.8 549.3 582 548.4 C584.2 547.5 585.6 547.9 586.3 547.8"/>
<path class="t" d="M566.2 568.6 C566.8 567.5 568.2 563.8 569.6 561.8 C571 559.8 572.2 558.1 574.4 556.4 C576.6 554.7 581 552.3 583 551.4 C585 550.5 585.8 551.1 586.3 551"/>
<polygon class="s" points="544.8,578.5 548.4,568.7 561.3,562 566.2,567.5 567.4,572.3 565,579.7 557,590.1 548.4,590.1"/>
<rect class="s" x="583.9" y="534.6" width="5.5" height="6.2"/>
<rect class="s" x="586.3" y="548.6" width="4.9" height="6.2"/>
</g>
<g id="dims">
<line class="l" x1="160.9" y1="58.5" x2="160.9" y2="216"/>
<line class="l" x1="524.3" y1="58.5" x2="524.3" y2="216"/>
<line class="l" x1="160.9" y1="63.2" x2="238.2" y2="63.2"/>
<line class="l" x1="276.4" y1="63.2" x2="524.3" y2="63.2"/>
<polygon class="a" points="160.9,63.2 171.9,60.8 171.9,65.6"/>
<polygon class="a" points="524.3,63.2 513.3,60.8 513.3,65.6"/>
<line class="l" x1="302.3" y1="78.8" x2="302.3" y2="100.2"/>
<line class="l" x1="382.8" y1="78.8" x2="382.8" y2="100.2"/>
<line class="l" x1="302.3" y1="83.7" x2="328.7" y2="83.7"/>
<line class="l" x1="356.4" y1="83.7" x2="382.8" y2="83.7"/>
<polygon class="a" points="302.3,83.7 313.3,81.3 313.3,86.1"/>
<polygon class="a" points="382.8,83.7 371.8,81.3 371.8,86.1"/>
<line class="l" x1="134.5" y1="104.4" x2="298.7" y2="104.4"/>
<line class="l" x1="134.5" y1="228.8" x2="169.5" y2="228.8"/>
<line class="l" x1="138.8" y1="104.4" x2="138.8" y2="153.3"/>
<line class="l" x1="138.8" y1="179.6" x2="138.8" y2="228.8"/>
<polygon class="a" points="138.8,104.4 136.4,115.4 141.2,115.4"/>
<polygon class="a" points="138.8,228.8 136.4,217.8 141.2,217.8"/>
<line class="l" x1="144.6" y1="257.9" x2="335.6" y2="257.9"/>
<line class="l" x1="144.6" y1="827.3" x2="346.6" y2="827.3"/>
<line class="l" x1="148.9" y1="257.9" x2="148.9" y2="428.6"/>
<line class="l" x1="148.9" y1="444.8" x2="148.9" y2="827.3"/>
<polygon class="a" points="148.9,257.9 146.5,268.9 151.3,268.9"/>
<polygon class="a" points="148.9,827.3 146.5,816.3 151.3,816.3"/>
<line class="l" x1="635.5" y1="257.9" x2="758.2" y2="257.9"/>
<line class="l" x1="631" y1="827.3" x2="758.2" y2="827.3"/>
<line class="l" x1="753.7" y1="257.9" x2="753.7" y2="424.5"/>
<line class="l" x1="753.7" y1="440.5" x2="753.7" y2="608"/>
<line class="l" x1="753.7" y1="608" x2="753.7" y2="709.4"/>
<line class="l" x1="753.7" y1="725.8" x2="753.7" y2="827.3"/>
<polygon class="a" points="753.7,257.9 751.3,268.9 756.1,268.9"/>
<polygon class="a" points="753.7,608 751.3,597 756.1,597"/>
<polygon class="a" points="753.7,608 751.3,619 756.1,619"/>
<polygon class="a" points="753.7,827.3 751.3,816.3 756.1,816.3"/>
<line class="l" x1="662.2" y1="608.1" x2="736.9" y2="608.1"/>
<line class="l" x1="740.4" y1="608.1" x2="758.2" y2="608.1"/>
<line class="l" x1="422.3" y1="540.7" x2="422.3" y2="600"/>
<line class="l" x1="422.3" y1="616.2" x2="422.3" y2="675.5"/>
<line class="l" x1="397.5" y1="675.5" x2="428" y2="675.5"/>
<polygon class="a" points="422.3,540.7 420.1,550.7 424.5,550.7"/>
<polygon class="a" points="422.3,675.5 420.1,665.5 424.5,665.5"/>
<line class="h" x1="341" y1="540.7" x2="452.5" y2="540.7"/>
<line class="h" x1="507" y1="540.7" x2="556.5" y2="540.7"/>
<line class="h" x1="341" y1="675.5" x2="670" y2="675.5"/>
</g>
<g id="labels">
<text class="d" transform="translate(0,69.9) scale(1.22,1)"><tspan x="195.3" dy="0" style="font-size:17px">2</tspan><tspan x="205" dy="0" style="font-size:17px">1</tspan></text>
<text class="q" transform="translate(261.7,62.4) scale(1.15,1)" style="font-size:12.4px">1</text>
<text class="q" transform="translate(262.1,73.8) scale(1.28,1)" style="font-size:12.4px">2</text>
<line class="l" x1="263" y1="63.4" x2="270" y2="63.4" style="stroke-width:1;stroke:#3a3a3a"/>
<text class="q" transform="translate(270.4,66.8) scale(1.0,1)" style="font-size:13px">"</text>
<text class="d" transform="translate(329.2,89.4) scale(1.22,1)" style="font-size:17px">4</text>
<text class="q" transform="translate(341.6,81.8) scale(1.28,1)" style="font-size:12.4px">3</text>
<text class="q" transform="translate(342,94.8) scale(1.28,1)" style="font-size:12.4px">4</text>
<line class="l" x1="342.6" y1="83.5" x2="350" y2="83.5" style="stroke-width:1;stroke:#3a3a3a"/>
<text class="q" transform="translate(349.8,87.7) scale(1.0,1)" style="font-size:13px">"</text>
<text class="d" transform="translate(125.4,172.8) scale(1.22,1)" style="font-size:17px">7</text>
<text class="q" transform="translate(137.5,165.3) scale(1.15,1)" style="font-size:12.4px">1</text>
<text class="q" transform="translate(137.7,177.8) scale(1.28,1)" style="font-size:12.4px">2</text>
<line class="l" x1="138.6" y1="166.1" x2="146.2" y2="166.1" style="stroke-width:1;stroke:#3a3a3a"/>
<text class="q" transform="translate(145.6,171.1) scale(1.0,1)" style="font-size:13px">"</text>
<text class="d" transform="translate(0,442.8) scale(1.22,1)"><tspan x="109.1" dy="0" style="font-size:17px">3</tspan><tspan x="119.6" dy="0" style="font-size:17px">4</tspan><tspan x="128.8" dy="-2.4" style="font-size:13.5px">"</tspan></text>
<text class="d" transform="translate(0,438.6) scale(1.22,1)"><tspan x="604.6" dy="0" style="font-size:17px">2</tspan><tspan x="612.1" dy="0" style="font-size:17px">1</tspan><tspan x="623.9" dy="-1.8" style="font-size:13.5px">"</tspan></text>
<text class="d" transform="translate(0,723.8) scale(1.22,1)"><tspan x="602.7" dy="0" style="font-size:17px">1</tspan><tspan x="613.2" dy="0" style="font-size:17px">3</tspan><tspan x="623.4" dy="-2.2" style="font-size:13.5px">"</tspan></text>
<text class="d" transform="translate(412.5,613.7) scale(1.2,1) skewX(-16)" style="font-size:17px">8</text>
<text class="q" transform="translate(425.5,611.6) scale(1.1,1)" style="font-size:14px">"</text>
<text class="v" x="163.3" y="242.7">TOP VIEW</text>
<line class="l" x1="163.3" y1="245.3" x2="221" y2="245.3" style="stroke-width:1"/>
<text class="v" x="151.3" y="845.1">FRONT VIEW</text>
<line class="l" x1="151.3" y1="846.8" x2="224.5" y2="846.8" style="stroke-width:1"/>
<text class="v" x="595.7" y="844.6">SIDE VIEW</text>
<line class="l" x1="595.7" y1="846.3" x2="657" y2="846.3" style="stroke-width:1"/>
<text class="c" x="672" y="605.9">TO CENTER OF</text>
<text class="c" x="672" y="616.6">BACK PLATE</text>
</g>
<text class="w" transform="translate(359.4,553.0) rotate(-45.2)" x="0" y="0">select-interiorworld.com</text>
</svg>
</body></html>
